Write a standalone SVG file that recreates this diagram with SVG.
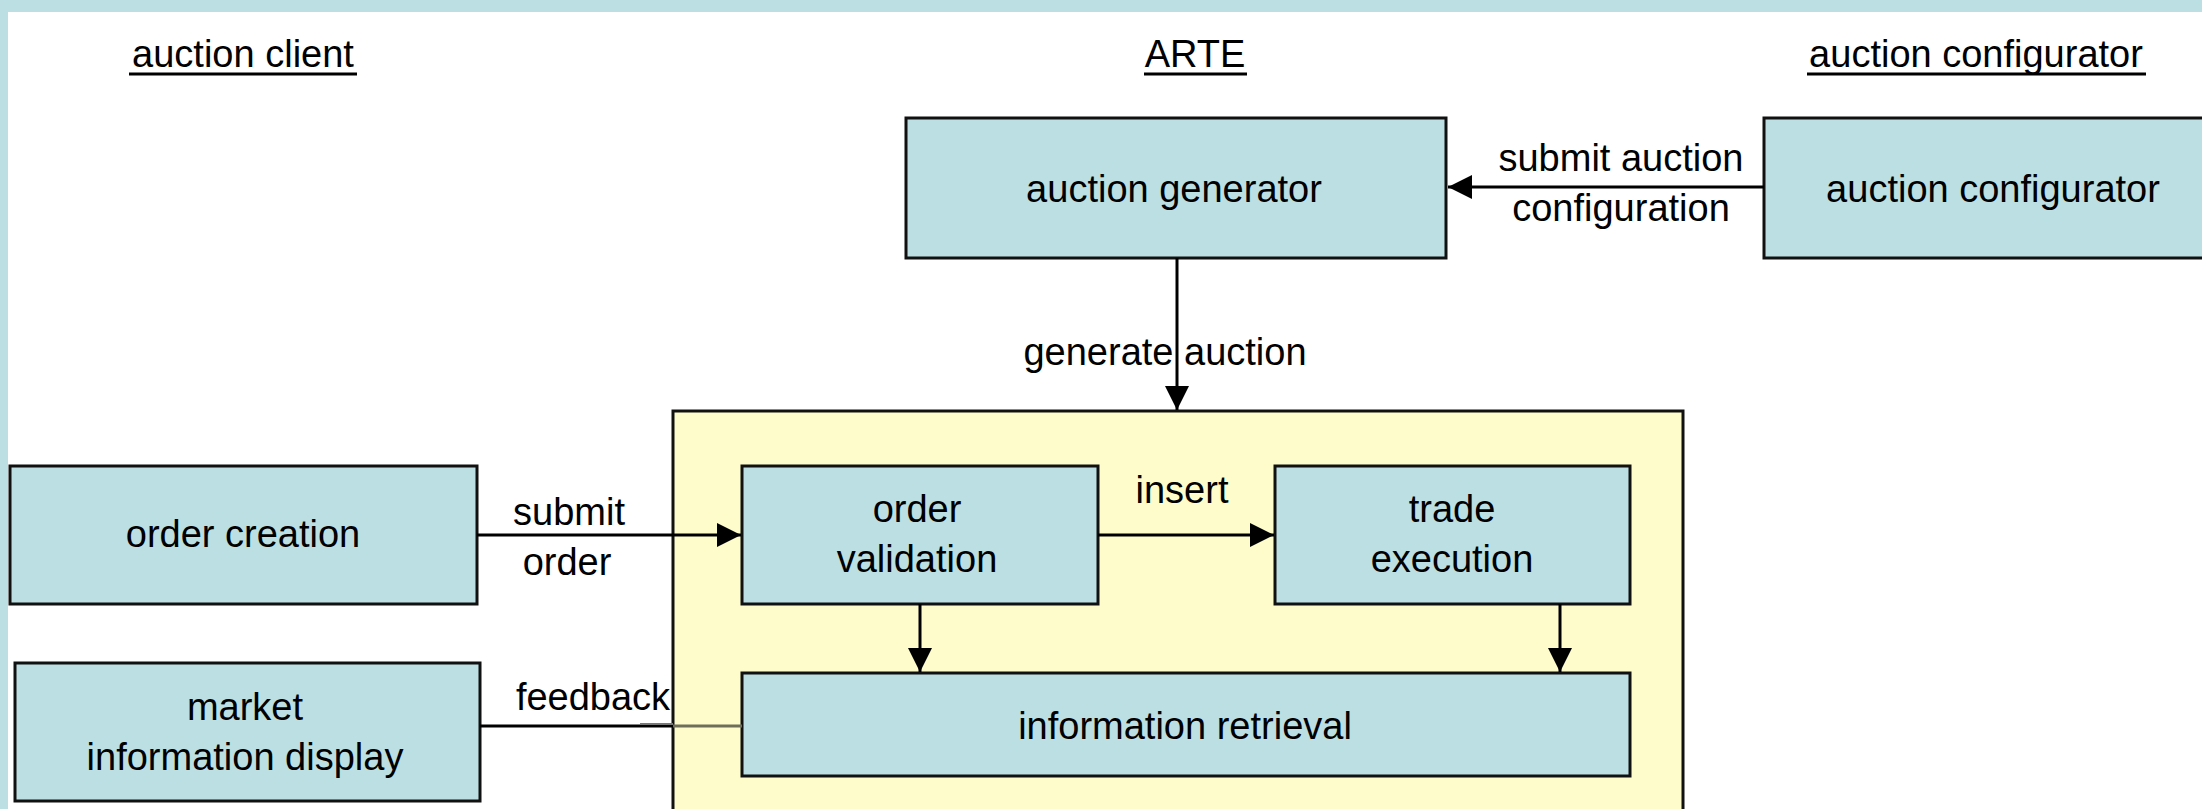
<svg xmlns="http://www.w3.org/2000/svg" width="2202" height="809" viewBox="0 0 2202 809">
  <defs>
    <style>
      .frame { fill: #bbdfe2; }
      .box { fill: #bbdfe2; stroke: #111; stroke-width: 3; }
      .area { fill: #fffccc; stroke: #111; stroke-width: 3; }
      .lbl { font-family: "Liberation Sans", Arial, sans-serif; font-size: 38px; fill: #000; text-anchor: middle; }
      .title { font-family: "Liberation Sans", Arial, sans-serif; font-size: 38px; fill: #000; text-anchor: middle; }
      .uline { stroke: #000; stroke-width: 3; }
      .edge { stroke: #000; stroke-width: 3; fill: none; }
    </style>
    <marker id="arrow" viewBox="0 0 24 24" refX="24" refY="12" markerWidth="24" markerHeight="24" markerUnits="userSpaceOnUse" orient="auto">
      <path d="M0,0 L24,12 L0,24 Z" fill="#000"/>
    </marker>
  </defs>

  <!-- page background and frame -->
  <rect x="0" y="0" width="2202" height="809" fill="#ffffff"/>
  <rect class="frame" x="0" y="0" width="2202" height="12"/>
  <rect class="frame" x="0" y="0" width="8" height="809"/>

  <!-- column titles -->
  <g id="title-client">
    <text class="title" x="243" y="67">auction client</text>
    <line class="uline" x1="129" y1="74" x2="357" y2="74"/>
  </g>
  <g id="title-arte">
    <text class="title" x="1195" y="67">ARTE</text>
    <line class="uline" x1="1144" y1="74" x2="1247" y2="74"/>
  </g>
  <g id="title-configurator">
    <text class="title" x="1976" y="67">auction configurator</text>
    <line class="uline" x1="1807" y1="74" x2="2146" y2="74"/>
  </g>

  <!-- ARTE container -->
  <g id="arte-area">
    <rect class="area" x="673" y="411" width="1010" height="420"/>
  </g>

  <!-- nodes -->
  <g id="auction-generator">
    <rect class="box" x="906" y="118" width="540" height="140"/>
    <text class="lbl" x="1174" y="202">auction generator</text>
  </g>
  <g id="auction-configurator">
    <rect class="box" x="1764" y="118" width="460" height="140"/>
    <text class="lbl" x="1993" y="202">auction configurator</text>
  </g>
  <g id="order-creation">
    <rect class="box" x="10" y="466" width="467" height="138"/>
    <text class="lbl" x="243" y="547">order creation</text>
  </g>
  <g id="market-information-display">
    <rect class="box" x="15" y="663" width="465" height="138"/>
    <text class="lbl" x="245" y="720">market</text>
    <text class="lbl" x="245" y="770">information display</text>
  </g>
  <g id="order-validation">
    <rect class="box" x="742" y="466" width="356" height="138"/>
    <text class="lbl" x="917" y="522">order</text>
    <text class="lbl" x="917" y="572">validation</text>
  </g>
  <g id="trade-execution">
    <rect class="box" x="1275" y="466" width="355" height="138"/>
    <text class="lbl" x="1452" y="522">trade</text>
    <text class="lbl" x="1452" y="572">execution</text>
  </g>
  <g id="information-retrieval">
    <rect class="box" x="742" y="673" width="888" height="103"/>
    <text class="lbl" x="1185" y="739">information retrieval</text>
  </g>

  <!-- connectors -->
  <g id="connectors">
    <line class="edge" x1="1764" y1="187" x2="1448" y2="187" marker-end="url(#arrow)"/>
    <text class="lbl" x="1621" y="171">submit auction</text>
    <text class="lbl" x="1621" y="221">configuration</text>

    <line class="edge" x1="1177" y1="258" x2="1177" y2="410" marker-end="url(#arrow)"/>
    <text class="lbl" x="1165" y="365">generate auction</text>

    <line class="edge" x1="477" y1="535" x2="741" y2="535" marker-end="url(#arrow)"/>
    <text class="lbl" x="569" y="525">submit</text>
    <text class="lbl" x="567" y="575">order</text>

    <line class="edge" x1="1098" y1="535" x2="1274" y2="535" marker-end="url(#arrow)"/>
    <text class="lbl" x="1182" y="503">insert</text>

    <line class="edge" x1="920" y1="604" x2="920" y2="672" marker-end="url(#arrow)"/>
    <line class="edge" x1="1560" y1="604" x2="1560" y2="672" marker-end="url(#arrow)"/>

    <line class="edge" x1="480" y1="726" x2="673" y2="726"/>
    <line x1="673" y1="726" x2="742" y2="726" stroke="#6e6e5a" stroke-width="3"/>
    <line x1="640" y1="724" x2="673" y2="724" stroke="#777" stroke-width="2"/>
    <text class="lbl" x="593" y="710">feedback</text>
  </g>
</svg>
